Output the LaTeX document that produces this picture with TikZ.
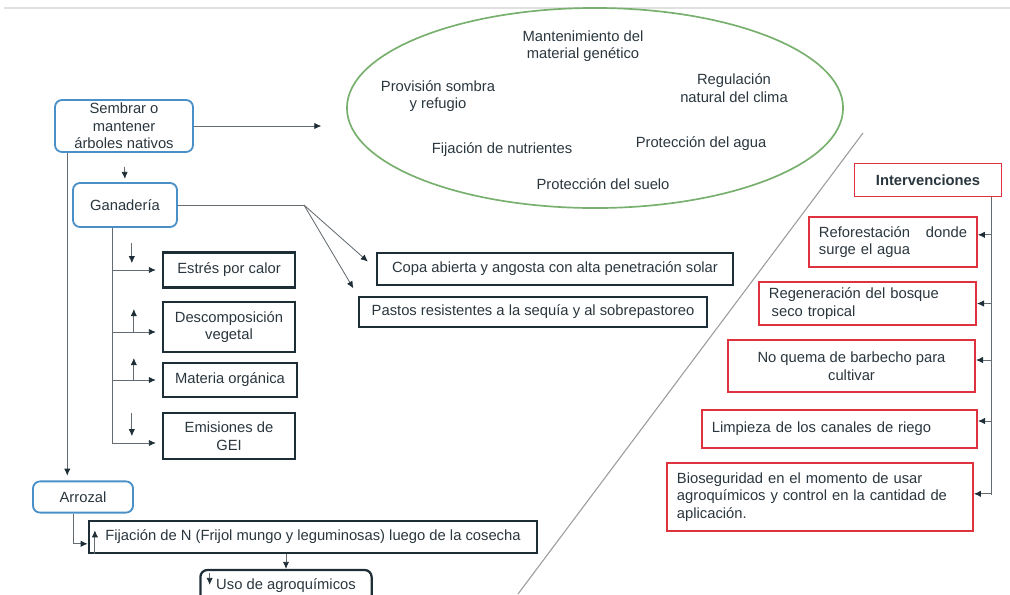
\documentclass[tikz,border=0pt]{standalone}
\usepackage{fontspec}
\setmainfont{Liberation Sans}
\usetikzlibrary{arrows.meta,shapes.geometric,positioning}
\definecolor{txtgray}{RGB}{42,54,62}
\definecolor{nodeblue}{RGB}{74,144,200}
\definecolor{nodered}{RGB}{222,50,62}
\definecolor{nodegreen}{RGB}{120,176,110}
\definecolor{nodedark}{RGB}{30,46,54}
\definecolor{linegray}{RGB}{100,108,114}

\begin{document}
\begin{tikzpicture}[x=0.025cm,y=-0.025cm,
every node/.style={font=\fontsize{10.5}{12.5}\selectfont,text=txtgray,inner sep=0pt},
bluebox/.style={draw=nodeblue,line width=1.3pt,rounded corners=5pt,align=center},
darkbox/.style={draw=nodedark,line width=1.6pt,align=center},
redbox/.style={draw=nodered,line width=1.2pt,align=center},
leftbox/.style={redbox,align=left,inner xsep=0.25cm},
arr/.style={draw=linegray,line width=0.6pt,-{Latex[length=5pt,width=4.5pt,color=nodedark]}},
link/.style={draw=linegray,line width=0.6pt}]
\clip (0,0) rectangle (1010,594);
\draw[black!12,line width=1.5pt] (4,8) -- (1010,8);
\draw[gray!75,line width=0.8pt] (863,133) -- (518,594);

% ellipse of services
\node[ellipse,draw=nodegreen,line width=1.2pt,minimum width=12.4cm,minimum height=5cm] (eco) at (595,108) {};
\node[align=center] (genetico) at (583,46) {Mantenimiento del\\material genético};
\node[align=center] (sombra) at (438,96) {Provisión sombra\\y refugio};
\node[align=center] (clima) at (734,88) {Regulación\\natural del clima};
\node (nutrientes) at (502,150) {Fijación de nutrientes};
\node (agua) at (701,144) {Protección del agua};
\node (suelo) at (603,184) {Protección del suelo};

% left column
\node[bluebox,minimum width=3.45cm,minimum height=1.3cm] (sembrar) at (124,126) {Sembrar o\\mantener\\árboles nativos};
\node[bluebox,minimum width=2.6cm,minimum height=1.1cm] (ganaderia) at (125,205) {Ganadería};
\node[bluebox,minimum width=2.5cm,minimum height=0.78cm] (arrozal) at (83,497) {Arrozal};
\node[darkbox,minimum width=3.3cm,minimum height=0.88cm] (estres) at (229,270) {Estrés por calor};
\node[darkbox,minimum width=3.3cm,minimum height=1.25cm] (descomp) at (229,327) {Descomposición\\vegetal};
\node[darkbox,minimum width=3.35cm,minimum height=0.85cm] (materia) at (230,380) {Materia orgánica};
\node[darkbox,minimum width=3.3cm,minimum height=1.15cm] (emisiones) at (229,436) {Emisiones de\\GEI};
\node[darkbox,minimum width=8.88cm,minimum height=0.8cm] (copa) at (555,269) {Copa abierta y angosta con alta penetración solar};
\node[darkbox,minimum width=8.7cm,minimum height=0.75cm] (pastos) at (533,312) {Pastos resistentes a la sequía y al sobrepastoreo};
\node[darkbox,line width=1.8pt,minimum width=11.2cm,minimum height=0.8cm] (fijacion) at (313,537) {Fijación de N (Frijol mungo y leguminosas) luego de la cosecha};
\node[darkbox,rounded corners=5pt,minimum width=4.28cm,minimum height=0.8cm] (uso) at (286,586) {Uso de agroquímicos};

% right column
\node[redbox,font=\fontsize{10.5}{12.5}\selectfont\bfseries,minimum width=3.68cm,minimum height=0.83cm] (interv) at (928,180) {Intervenciones};
\node[leftbox,text width=3.7cm,minimum height=1.25cm] (reforest) at (893,242) {Reforestación\hfill donde\\surge el agua};
\node[leftbox,text width=4.93cm,minimum height=1.08cm] (regen) at (867.5,303.5) {Regeneración del bosque\\\hspace{2pt}seco tropical};
\node[redbox,minimum width=6.18cm,minimum height=1.3cm] (quema) at (851.5,366) {No quema de barbecho para\\cultivar};
\node[leftbox,text width=6.38cm,minimum height=0.95cm] (limpieza) at (839.5,429) {Limpieza de los canales de riego};
\node[leftbox,text width=7.15cm,minimum height=1.7cm] (bioseg) at (820,497) {Bioseguridad en el momento de usar\\agroquímicos y control en la cantidad de\\aplicación.};

% connectors
\draw[arr,shorten >=0.62cm] (sembrar.east) -- (sembrar.east -| eco.west);
\draw[arr,shorten <=0.35cm,shorten >=0.08cm] (sembrar.south) -- (ganaderia.north);
\coordinate (rail) at ([xshift=0.33cm]sembrar.south west);
\draw[arr,shorten >=0.12cm] (rail) -- (rail |- arrozal.north);

\coordinate (gtrunk) at ([xshift=1cm]ganaderia.south west);
\draw[link] (gtrunk) -- ([yshift=-0.175cm]emisiones.west -| gtrunk);
\foreach \bx/\dy in {estres/0cm,descomp/-0.125cm,materia/0cm,emisiones/-0.175cm}
  \draw[arr,shorten >=0.15cm] ([yshift=\dy]\bx.west -| gtrunk) -- ([yshift=\dy]\bx.west);
\draw[arr] ([xshift=-0.75cm,yshift=0.67cm]estres.west) -- ++(0,20);
\draw[arr] ([xshift=-0.7cm,yshift=-0.125cm]descomp.west) -- ++(0,-23);
\draw[arr] ([xshift=-0.7cm]materia.west) -- ++(0,-22);
\draw[arr] ([xshift=-0.75cm,yshift=0.57cm]emisiones.west) -- ++(0,23);

\coordinate (gsplit) at ([xshift=3.15cm]ganaderia.east);
\draw[link] (ganaderia.east) -- (gsplit);
\draw[arr,shorten >=0.28cm] (gsplit) -- (copa.west);
\draw[arr,shorten >=0.22cm] (gsplit) -- (pastos.north west);

\draw[arr] ([xshift=-0.25cm]arrozal.south) |- ([yshift=-0.17cm]fijacion.west);
\draw[arr] ([xshift=0.18cm]fijacion.south west) -- ++(0,-24);
\draw[arr] (fijacion.south -| uso.north) -- (uso.north);
\draw[arr] ([xshift=0.26cm,yshift=-0.1cm]uso.north west) -- ++(0,12);

\coordinate (irail) at ([xshift=-0.265cm]interv.south east);
\draw[link] (irail) -- ([yshift=0.05cm]irail |- bioseg.east);
\foreach \bx/\dy in {reforest/0.18cm,regen/0cm,quema/0.15cm,limpieza/0.2cm,bioseg/0.08cm}
  \draw[arr] ([yshift=\dy]irail |- \bx.east) -- ([yshift=\dy]\bx.east);
\end{tikzpicture}
\end{document}
